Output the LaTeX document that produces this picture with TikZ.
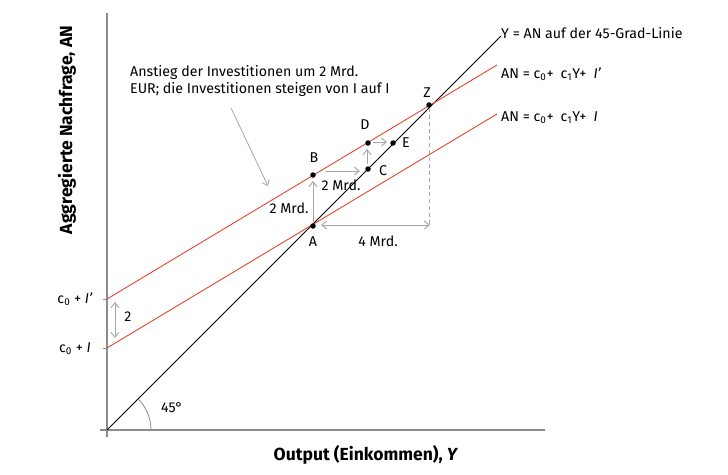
\documentclass[tikz,border=0pt]{standalone}
\usepackage{fontspec}
\setmainfont{Fira Sans}
\usetikzlibrary{arrows.meta}
\definecolor{axisgray}{HTML}{8C8C8C}
\definecolor{arrgray}{HTML}{A6A6A6}
\definecolor{redline}{HTML}{E0442E}
\tikzset{
  axisline/.style={draw=axisgray, line width=1.2pt},
  redl/.style={draw=redline, line width=0.9pt},
  blackl/.style={draw=black, line width=0.9pt},
  garrow/.style={draw=arrgray, line width=0.9pt, -{Straight Barb[length=5pt,width=8pt]}},
  gdarrow/.style={draw=arrgray, line width=0.9pt, {Straight Barb[length=5pt,width=8pt]}-{Straight Barb[length=5pt,width=8pt]}},
  dotpt/.style={circle, fill=black, inner sep=0pt, minimum size=5.5pt},
  lbl/.style={font=\fontsize{14.2}{17}\selectfont, inner sep=1pt},
  axlbl/.style={font=\fontsize{17.5}{20}\selectfont\bfseries, inner sep=0pt},
}
\begin{document}
\begin{tikzpicture}[x=1pt,y=-1pt]
\useasboundingbox (0,0) rectangle (728,474);
% axes
\coordinate (O) at (107,430);
\coordinate (ytop) at (107,13);
\coordinate (ybot) at (107,437);
\coordinate (xl) at (100,430);
\coordinate (xr) at (545,430);
\draw[axisline] (ybot) -- (ytop);
\draw[axisline] (xl) -- (xr);
% 45 degree line
\coordinate (Lend) at (501,36);
\draw[blackl] (O) -- (Lend);
% red lines
\coordinate (I0) at (107,348);
\coordinate (I1) at (107,299);
\coordinate (R0) at (497,114);
\coordinate (R1) at (497,65);
\draw[redl] (I0) -- (R0);
\draw[redl] (I1) -- (R1);
\draw[draw=axisgray, line width=0.8pt] (103,348) -- (I0);
\draw[draw=axisgray, line width=0.8pt] (103,299) -- (I1);
% points
\node[dotpt] (A) at (313,226) {};
\node[dotpt] (B) at (313,175) {};
\node[dotpt] (C) at (368,169) {};
\node[dotpt] (D) at (368,143) {};
\node[dotpt] (E) at (393,143) {};
\node[dotpt] (Z) at (429,105) {};
% point labels
\node[lbl] at (313,242) {A};
\node[lbl] at (314,158) {B};
\node[lbl] at (383,171) {C};
\node[lbl] at (365,125) {D};
\node[lbl] at (406,143) {E};
\node[lbl] at (427,93) {Z};
% arrows
\coordinate (a1s) at (313,222);
\coordinate (a1e) at (313,181);
\draw[garrow] (a1s) -- (a1e);
\coordinate (a2s) at (326,171);
\coordinate (a2e) at (360,171);
\draw[garrow] (a2s) -- (a2e);
\coordinate (a3s) at (367,164);
\coordinate (a3e) at (367,149);
\draw[garrow] (a3s) -- (a3e);
\coordinate (a4s) at (373,142);
\coordinate (a4e) at (387,142);
\draw[garrow] (a4s) -- (a4e);
\coordinate (d1) at (321,225);
\coordinate (d2) at (430,225);
\draw[gdarrow] (d1) -- (d2);
\coordinate (Zb) at (429,225);
\draw[draw=arrgray, line width=0.9pt, dash pattern=on 4pt off 3pt] (Z) -- (Zb);
\coordinate (t1) at (115,302);
\coordinate (t2) at (115,338);
\draw[gdarrow] (t1) -- (t2);
\node[lbl] at (128,317) {2};
% arrow labels
\node[lbl] at (289,208) {2 Mrd.};
\node[lbl] at (341,185) {2 Mrd.};
\node[lbl] at (378,241) {4 Mrd.};
% 45 arc
\draw[draw=axisgray, line width=0.8pt] (151,430) arc[start angle=0, end angle=-45, radius=44];
\node[lbl] at (172,408) {45°};
% axis value labels
\node[lbl] at (75,299) {c\textsubscript{0} + \textit{I'}};
\node[lbl] at (75,349) {c\textsubscript{0} + \textit{I}};
% annotation
\node[lbl, anchor=north west, align=left, font=\fontsize{14.2}{17.5}\selectfont] (ann) at (129,64) {Anstieg der Investitionen um 2 Mrd.\\EUR; die Investitionen steigen von I auf I};
\coordinate (ans) at (231,108);
\coordinate (ane) at (268,186);
\draw[draw=arrgray, line width=0.8pt, -{Straight Barb[length=5pt,width=8pt]}] (ans) -- (ane);
% right labels
\node[lbl, anchor=west] at (500,33) {Y = AN auf der 45-Grad-Linie};
\node[lbl, anchor=west] at (500,74) {AN = c\textsubscript{0}+\enspace c\textsubscript{1}Y+\enspace \textit{I'}};
\node[lbl, anchor=west] at (500,118) {AN = c\textsubscript{0}+\enspace c\textsubscript{1}Y+\enspace \textit{I}};
% axis labels
\node[axlbl, rotate=90] at (67,130) {Aggregierte Nachfrage, AN};
\node[axlbl] at (366,455) {Output (Einkommen), \textit{Y}};
\end{tikzpicture}
\end{document}
